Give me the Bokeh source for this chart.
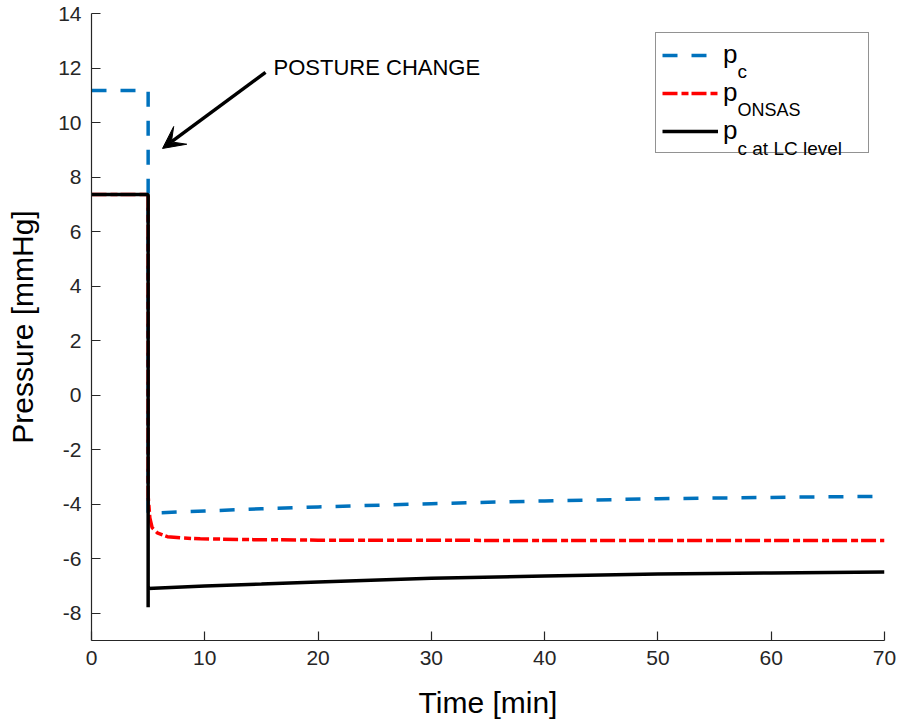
from bokeh.plotting import figure
from bokeh.models import (Legend, LegendItem, Label, Arrow, VeeHead, Range1d,
                          FixedTicker)
from bokeh.core.properties import value
from bokeh.embed import file_html
from bokeh.resources import INLINE

# ---- data ----
t_pc = [0, 5, 5, 10, 15, 20, 30, 40, 50, 60, 70]
v_pc = [11.18, 11.18, -4.33, -4.25, -4.17, -4.10, -3.98, -3.88, -3.80, -3.75, -3.71]

t_onsas = [0, 5, 5, 5.15, 5.35, 5.8, 6.7, 8, 9.6, 14.3, 20, 40, 70]
v_onsas = [7.36, 7.36, -3.7, -4.5, -4.86, -5.05, -5.19, -5.24, -5.27, -5.30, -5.32, -5.33, -5.33]

t_lc = [0, 5, 5, 5, 10, 15, 20, 30, 40, 50, 60, 70]
v_lc = [7.36, 7.36, -7.78, -7.09, -7.0, -6.93, -6.85, -6.72, -6.63, -6.56, -6.52, -6.49]

x_ticks = [0, 10, 20, 30, 40, 50, 60, 70]
y_ticks = [-8, -6, -4, -2, 0, 2, 4, 6, 8, 10, 12, 14]
y_tick_labels = {t: str(t) for t in y_ticks}   # plain hyphen-minus as in the reference

FONT = "Liberation Sans"
AX = "#262626"

p = figure(width=898, height=728, x_range=Range1d(0, 70), y_range=Range1d(-9, 14),
           output_backend="svg", toolbar_location=None,
           min_border_left=91, min_border_right=14, min_border_top=13, min_border_bottom=88)
p.outline_line_color = None
p.xgrid.visible = False
p.ygrid.visible = False
p.background_fill_color = "white"
p.border_fill_color = "white"

p.xaxis.ticker = FixedTicker(ticks=x_ticks)
p.yaxis.ticker = FixedTicker(ticks=y_ticks)
p.yaxis.major_label_overrides = y_tick_labels
for ax in (p.xaxis, p.yaxis):
    ax.axis_line_color = AX
    ax.axis_line_width = 1.2
    ax.major_tick_line_color = AX
    ax.major_tick_line_width = 1.2
    ax.major_tick_in = 9
    ax.major_tick_out = 0
    ax.minor_tick_line_color = None
    ax.major_label_text_font = FONT
    ax.major_label_text_font_size = "21px"
    ax.major_label_text_color = AX
    ax.major_label_standoff = 10
    ax.axis_label_text_font = FONT
    ax.axis_label_text_font_size = "30px"
    ax.axis_label_text_font_style = "normal"
    ax.axis_label_text_color = "black"
p.xaxis.axis_label = "Time [min]"
p.yaxis.axis_label = "Pressure [mmHg]"
p.xaxis.axis_label_standoff = 18
p.yaxis.axis_label_standoff = 16

r_pc = p.line(t_pc, v_pc, line_color="#0072BD", line_width=3.5, line_dash="15 14")
r_on = p.line(t_onsas, v_onsas, line_color="#FF0000", line_width=3.5, line_dash="15 4 7 3")
r_lc = p.line(t_lc, v_lc, line_color="black", line_width=3.5)

# legend box: page x 655..867, bottom at y 153 -> location relative to frame bottom-left
legend = Legend(items=[LegendItem(label=value("p"), renderers=[r_pc]),
                       LegendItem(label=value("p"), renderers=[r_on]),
                       LegendItem(label=value("p"), renderers=[r_lc])],
                location=(655 - 91, 640 - 153), margin=0, padding=6, spacing=7,
                glyph_width=56, glyph_height=30, label_height=30, label_width=139,
                label_standoff=5, label_text_font=FONT, label_text_font_size="26px",
                label_text_color="black", border_line_color=AX, border_line_width=1.2,
                background_fill_color="white", background_fill_alpha=0)
p.add_layout(legend)

# page-pixel -> data helpers for text placement (frame at page x 91..884, y 13..640)
FL, FR, FT, FB = 91, 884, 13, 640
def dx(px):
    return (px - FL) / (FR - FL) * 70
def dy(py):
    return 14 - (py - FT) / (FB - FT) * 23

subs = [("c", 19, 71), ("ONSAS", 18, 109), ("c at LC level", 19, 147.5)]
for txt, fs, base in subs:
    p.add_layout(Label(x=dx(737), y=dy(base), text=txt, text_font=FONT,
                       text_font_size=f"{fs}px", text_baseline="alphabetic",
                       text_align="left", text_color="black", level="overlay"))

p.add_layout(Arrow(end=VeeHead(size=22, fill_color="black", line_color="black", line_width=1),
                   x_start=15.36, y_start=11.84, x_end=6.27, y_end=9.05,
                   line_color="black", line_width=3.5))
p.add_layout(Label(x=16.07, y=12.03, text="POSTURE CHANGE", text_font=FONT,
                   text_font_size="22px", text_baseline="alphabetic", text_align="left",
                   text_color="black"))

open("out.html", "w").write(file_html(p, INLINE))
